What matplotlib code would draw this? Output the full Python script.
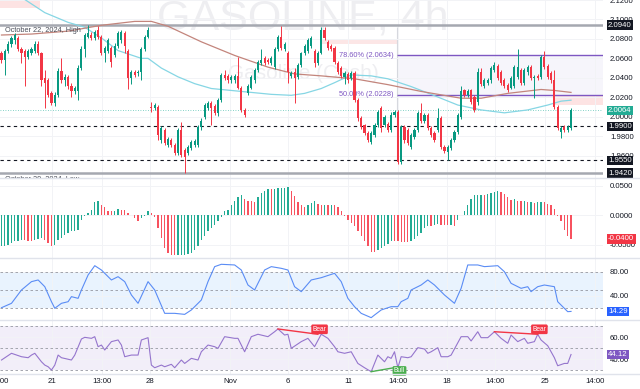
import numpy as np
import matplotlib.pyplot as plt
from matplotlib.lines import Line2D

plt.rcParams['font.family'] = ['Liberation Sans', 'DejaVu Sans']

# GASOLINE 4h candles (one entry per bar)
opens = [
    2.066, 2.058, 2.068, 2.075, 2.079, 2.081, 2.070, 2.068, 2.061, 2.066,
    2.068, 2.075, 2.065, 2.040, 2.038, 2.024, 2.014, 2.022, 2.047, 2.038,
    2.041, 2.032, 2.026, 2.026, 2.050, 2.070, 2.082, 2.084, 2.081, 2.089,
    2.082, 2.065, 2.068, 2.071, 2.063, 2.073, 2.079, 2.086, 2.068, 2.040,
    2.046, 2.045, 2.046, 2.070, 2.082, 2.010, 2.009, 2.010, 1.976, 1.986,
    1.971, 1.976, 1.971, 1.963, 1.986, 1.966, 1.963, 1.968, 1.971, 1.971,
    1.989, 2.000, 2.009, 2.014, 2.011, 2.004, 2.017, 2.043, 2.042, 2.038,
    2.038, 2.042, 2.030, 2.007, 2.024, 2.030, 2.038, 2.048, 2.055, 2.060,
    2.058, 2.055, 2.051, 2.070, 2.082, 2.070, 2.066, 2.042, 2.046, 2.041,
    2.053, 2.065, 2.068, 2.073, 2.068, 2.055, 2.066, 2.089, 2.077, 2.073,
    2.071, 2.055, 2.050, 2.041, 2.044, 2.040, 2.045, 2.017, 1.999, 1.991,
    1.983, 1.974, 1.981, 1.991, 2.009, 1.991, 1.993, 1.986, 2.002, 2.005,
    1.953, 1.989, 1.986, 1.969, 1.979, 1.986, 2.004, 1.996, 2.002, 1.988,
    1.983, 1.986, 1.999, 1.969, 1.964, 1.968, 1.976, 1.984, 2.000, 2.027,
    2.022, 2.027, 2.020, 2.015, 2.046, 2.032, 2.035, 2.038, 2.048, 2.052,
    2.046, 2.038, 2.033, 2.030, 2.032, 2.041, 2.048, 2.035, 2.046, 2.051,
    2.040, 2.042, 2.041, 2.061, 2.052, 2.045, 2.038, 2.010, 1.984, 1.989,
    1.986, 1.988]
highs = [
    2.068, 2.070, 2.078, 2.083, 2.086, 2.083, 2.072, 2.070, 2.070, 2.072,
    2.078, 2.078, 2.067, 2.048, 2.040, 2.026, 2.025, 2.050, 2.060, 2.044,
    2.043, 2.035, 2.032, 2.053, 2.073, 2.086, 2.094, 2.087, 2.089, 2.093,
    2.084, 2.073, 2.081, 2.073, 2.076, 2.088, 2.089, 2.088, 2.070, 2.048,
    2.048, 2.048, 2.072, 2.084, 2.092, 2.015, 2.014, 2.012, 1.990, 1.988,
    1.979, 1.978, 1.973, 1.988, 1.995, 1.968, 1.971, 1.976, 1.977, 1.991,
    1.999, 2.014, 2.016, 2.016, 2.013, 2.019, 2.045, 2.048, 2.044, 2.043,
    2.044, 2.061, 2.032, 2.009, 2.034, 2.043, 2.050, 2.058, 2.070, 2.062,
    2.060, 2.062, 2.072, 2.084, 2.093, 2.077, 2.068, 2.047, 2.050, 2.055,
    2.067, 2.075, 2.081, 2.083, 2.070, 2.068, 2.092, 2.092, 2.079, 2.075,
    2.073, 2.057, 2.052, 2.047, 2.046, 2.047, 2.047, 2.019, 2.001, 1.993,
    1.985, 1.985, 1.994, 2.007, 2.011, 2.002, 1.995, 2.005, 2.007, 2.007,
    1.991, 1.991, 1.988, 1.983, 1.988, 2.006, 2.014, 2.004, 2.004, 1.990,
    1.985, 2.009, 2.001, 1.971, 1.971, 1.978, 1.986, 2.004, 2.032, 2.029,
    2.028, 2.029, 2.022, 2.050, 2.050, 2.040, 2.040, 2.052, 2.056, 2.054,
    2.048, 2.040, 2.035, 2.042, 2.053, 2.070, 2.050, 2.050, 2.053, 2.053,
    2.043, 2.044, 2.063, 2.068, 2.054, 2.047, 2.048, 2.012, 1.990, 1.991,
    1.991, 2.009]
lows = [
    2.055, 2.043, 2.065, 2.072, 2.075, 2.068, 2.055, 2.032, 2.059, 2.063,
    2.066, 2.063, 2.032, 2.009, 2.020, 2.012, 2.011, 2.020, 2.035, 2.032,
    2.029, 2.020, 2.023, 2.017, 2.048, 2.061, 2.081, 2.079, 2.079, 2.080,
    2.063, 2.056, 2.065, 2.051, 2.061, 2.071, 2.076, 2.066, 2.029, 2.034,
    2.041, 2.042, 2.038, 2.068, 2.081, 2.005, 2.007, 1.976, 1.973, 1.971,
    1.969, 1.969, 1.961, 1.961, 1.959, 1.942, 1.961, 1.966, 1.969, 1.969,
    1.986, 1.998, 2.007, 1.991, 2.002, 2.001, 2.015, 2.038, 2.035, 2.035,
    2.035, 2.028, 2.005, 2.000, 2.022, 2.028, 2.035, 2.046, 2.053, 2.053,
    2.054, 2.053, 2.049, 2.068, 2.069, 2.068, 2.035, 2.040, 2.014, 2.039,
    2.051, 2.063, 2.066, 2.071, 2.051, 2.053, 2.064, 2.079, 2.069, 2.068,
    2.054, 2.044, 2.040, 2.034, 2.035, 2.038, 2.015, 1.996, 1.987, 1.981,
    1.974, 1.972, 1.979, 1.989, 1.984, 1.989, 1.984, 1.984, 2.000, 1.951,
    1.951, 1.973, 1.971, 1.967, 1.977, 1.984, 1.994, 1.994, 1.986, 1.979,
    1.974, 1.984, 1.967, 1.963, 1.955, 1.966, 1.974, 1.982, 1.998, 2.020,
    2.020, 2.013, 2.005, 2.012, 2.032, 2.030, 2.033, 2.035, 2.046, 2.038,
    2.033, 2.030, 2.025, 2.028, 2.030, 2.039, 2.033, 2.033, 2.043, 2.038,
    2.019, 2.038, 2.039, 2.049, 2.039, 2.035, 2.008, 1.986, 1.978, 1.984,
    1.984, 1.986]
closes = [
    2.058, 2.068, 2.075, 2.081, 2.084, 2.070, 2.065, 2.061, 2.068, 2.070,
    2.075, 2.065, 2.038, 2.035, 2.022, 2.014, 2.022, 2.047, 2.038, 2.041,
    2.032, 2.026, 2.030, 2.050, 2.070, 2.084, 2.086, 2.081, 2.087, 2.082,
    2.065, 2.071, 2.079, 2.056, 2.073, 2.086, 2.087, 2.073, 2.040, 2.046,
    2.043, 2.046, 2.070, 2.082, 2.089, 2.009, 2.012, 1.981, 1.988, 1.973,
    1.977, 1.971, 1.963, 1.986, 1.961, 1.959, 1.969, 1.974, 1.975, 1.989,
    1.996, 2.012, 2.014, 2.009, 2.004, 2.017, 2.043, 2.040, 2.038, 2.041,
    2.042, 2.030, 2.007, 2.002, 2.032, 2.041, 2.048, 2.056, 2.058, 2.055,
    2.056, 2.060, 2.070, 2.082, 2.071, 2.075, 2.046, 2.045, 2.040, 2.053,
    2.065, 2.073, 2.079, 2.081, 2.055, 2.066, 2.089, 2.081, 2.071, 2.070,
    2.056, 2.046, 2.042, 2.045, 2.038, 2.045, 2.017, 1.999, 1.989, 1.983,
    1.976, 1.983, 1.992, 2.005, 1.988, 2.000, 1.986, 2.002, 2.005, 1.953,
    1.989, 1.976, 1.973, 1.981, 1.986, 2.004, 1.996, 2.002, 1.988, 1.981,
    1.976, 1.999, 1.969, 1.965, 1.969, 1.976, 1.984, 2.002, 2.026, 2.022,
    2.026, 2.015, 2.007, 2.046, 2.034, 2.038, 2.038, 2.050, 2.053, 2.040,
    2.035, 2.032, 2.027, 2.040, 2.051, 2.051, 2.035, 2.048, 2.051, 2.040,
    2.041, 2.040, 2.061, 2.051, 2.041, 2.038, 2.010, 1.988, 1.988, 1.986,
    1.989, 2.0064]

# moving averages (bar index, price)
ma_fast_idx = [5, 13, 20, 25, 30, 35, 42, 44, 48, 53, 58, 63, 69, 75, 81, 87, 91, 96,
               100, 105, 111, 116, 123, 129, 137, 144, 151, 158, 164, 168, 171]
ma_fast = [2.125, 2.107, 2.097, 2.092, 2.081, 2.068, 2.060, 2.060, 2.050, 2.041, 2.034,
           2.029, 2.027, 2.025, 2.023, 2.022, 2.024, 2.029, 2.035, 2.043, 2.042, 2.039,
           2.031, 2.023, 2.012, 2.007, 2.004, 2.007, 2.012, 2.016, 2.017]
ma_slow_idx = [0, 9, 20, 30, 40, 45, 50, 55, 60, 70, 80, 88, 96, 106, 116, 126, 138,
               144, 152, 162, 166, 171]
ma_slow = [2.084, 2.085, 2.088, 2.094, 2.098, 2.098, 2.093, 2.085, 2.077, 2.063, 2.051,
           2.044, 2.042, 2.039, 2.033, 2.026, 2.019, 2.019, 2.024, 2.028, 2.027, 2.025]

# Awesome Oscillator
ao_vals = [
    -0.0525, -0.0520, -0.0497, -0.0469, -0.0441, -0.0429, -0.0412, -0.0415, -0.0429, -0.0441,
    -0.0412, -0.0396, -0.0384, -0.0412, -0.0469, -0.0525, -0.0497, -0.0412, -0.0384, -0.0339,
    -0.0299, -0.0271, -0.0260, -0.0243, -0.0073, -0.0017, 0.0040, 0.0096, 0.0226, 0.0237,
    0.0181, 0.0136, 0.0079, 0.0068, 0.0079, 0.0113, 0.0096, 0.0085, 0.0040, 0.0011,
    -0.0045, -0.0102, -0.0045, -0.0006, 0.0068, 0.0040, -0.0034, -0.0215, -0.0384, -0.0554,
    -0.0638, -0.0678, -0.0680, -0.0675, -0.0670, -0.0665, -0.0655, -0.0638, -0.0582, -0.0525,
    -0.0412, -0.0356, -0.0271, -0.0215, -0.0158, -0.0090, -0.0034, 0.0068, 0.0096, 0.0170,
    0.0249, 0.0305, 0.0350, 0.0283, 0.0237, 0.0235, 0.0226, 0.0305, 0.0379, 0.0418,
    0.0452, 0.0440, 0.0445, 0.0455, 0.0463, 0.0470, 0.0475, 0.0418, 0.0322, 0.0226,
    0.0181, 0.0136, 0.0181, 0.0209, 0.0237, 0.0192, 0.0170, 0.0181, 0.0170, 0.0181,
    0.0170, 0.0136, 0.0068, -0.0017, -0.0073, -0.0130, -0.0186, -0.0271, -0.0356, -0.0441,
    -0.0525, -0.0622, -0.0625, -0.0582, -0.0554, -0.0525, -0.0486, -0.0435, -0.0440, -0.0443,
    -0.0446, -0.0449, -0.0455, -0.0441, -0.0396, -0.0356, -0.0299, -0.0215, -0.0186, -0.0190,
    -0.0160, -0.0150, -0.0158, -0.0170, -0.0172, -0.0158, -0.0186, -0.0073, 0.0011, 0.0079,
    0.0181, 0.0283, 0.0339, 0.0345, 0.0350, 0.0339, 0.0362, 0.0379, 0.0396, 0.0407,
    0.0396, 0.0362, 0.0305, 0.0266, 0.0268, 0.0249, 0.0245, 0.0250, 0.0226, 0.0230,
    0.0209, 0.0226, 0.0228, 0.0220, 0.0192, 0.0181, 0.0113, -0.0017, -0.0102, -0.0243,
    -0.0356, -0.0400]

# Stochastic %K (bar index, value)
stoch_idx = [0, 3, 6, 9, 11, 13, 15, 16, 18, 20, 21, 23, 24, 26, 28, 30, 33, 35, 37, 39,
             41, 44, 46, 49, 52, 55, 57, 60, 62, 64, 66, 70, 72, 74, 76, 77, 79, 81, 84, 86,
             88, 90, 93, 96, 100, 102, 104, 106, 108, 111, 112, 114, 117, 119, 120, 122, 123,
             126, 128, 130, 133, 136, 138, 140, 143, 145, 149, 151, 153, 156, 158, 159, 161,
             163, 166, 167, 170, 171]
stoch_k = [20.5, 27.8, 50, 63.9, 66.7, 55.5, 30.5, 19.5, 27.8, 30.5, 38.9, 36.1, 50, 75,
           90.5, 83.3, 66.7, 72.2, 63.9, 41.7, 27.8, 63.9, 50, 11.1, 11.1, 9.4, 16.7, 33.3,
           63.9, 88.9, 92.8, 91.7, 83.3, 58.3, 50, 61.1, 83.3, 88.9, 86.1, 83.3, 55.5, 47.2,
           66.7, 70.5, 77.8, 63.9, 36.1, 22.2, 11.1, 3.9, 8.3, 16.7, 22.2, 22.2, 30.5, 36.1,
           50, 58.3, 66.7, 58.3, 41.7, 27.8, 52.8, 91.7, 91.7, 88.9, 90.5, 80.5, 61.1, 52.8,
           55.5, 47.2, 55.5, 58.3, 55.5, 30.5, 13.9, 14.29]

# RSI (bar index, value)
rsi_idx = [0, 3, 6, 8, 9, 10, 12, 13, 14, 15, 16, 17, 18, 21, 22, 24, 25, 27, 28, 29, 30,
           31, 33, 35, 36, 37, 39, 41, 42, 44, 45, 46, 48, 49, 51, 52, 54, 55, 57, 59, 60,
           62, 64, 65, 67, 70, 71, 73, 75, 77, 80, 82, 83, 85, 86, 87, 90, 92, 94, 96, 98,
           100, 101, 103, 105, 107, 109, 111, 113, 115, 116, 117, 118, 119, 120, 122, 123,
           125, 127, 128, 129, 131, 132, 134, 135, 138, 140, 141, 143, 144, 146, 148, 150,
           152, 153, 155, 157, 158, 160, 161, 162, 164, 166, 167, 169, 170, 171]
rsi_val = [39.1, 45.2, 42.1, 41.2, 43.6, 45.2, 37.5, 34.5, 33.0, 30.0, 34.5, 43.6, 41.2,
           39.1, 43.6, 58.2, 59.7, 58.8, 60.3, 51.2, 52.7, 48.2, 55.8, 57.3, 52.7, 42.1,
           43.6, 43.6, 57.3, 59.4, 34.5, 32.1, 34.5, 33.0, 35.2, 32.1, 39.1, 36.0, 40.6,
           39.1, 46.6, 52.7, 51.2, 49.7, 60.3, 58.8, 58.8, 46.6, 60.3, 62.5, 60.3, 64.8,
           67.3, 61.8, 62.5, 49.7, 55.8, 58.8, 51.2, 62.5, 58.8, 51.2, 46.6, 45.2, 46.6,
           36.0, 32.1, 28.5, 43.6, 37.5, 42.1, 40.6, 46.6, 32.1, 42.1, 41.2, 42.1, 50.3,
           49.1, 45.2, 46.6, 50.3, 42.1, 42.1, 43.6, 60.3, 60.3, 56.4, 64.8, 59.4, 59.4,
           64.8, 58.8, 54.3, 61.8, 55.8, 58.8, 54.3, 55.8, 62.5, 57.3, 52.1, 41.2, 33.9,
           36.0, 36.0, 44.12]

# RSI divergences: (start idx, start value, end idx, end value, label)
divergences = [(83, 67.3, 95, 62.5, 'Bear'), (111, 28.5, 119, 32.7, 'Bull'),
               (148, 64.8, 161, 62.5, 'Bear')]

# key levels
high_level = 2.0940
low_level = 1.9420
support_levels = [1.9900, 1.9550]
last_price = 2.0064
fib_levels = [2.0634, 2.0228]
fib_labels = ['78.60% (2.0634)', '50.00% (2.0228)']
fib_start = 118.8

tick_pos = [15.2, 30.2, 44.6, 68.6, 86.0, 104.1, 119.1, 133.8, 148.2, 163.2, 178.2]
tick_labels = ['21', '13:00', '28', 'Nov', '6', '11', '14:00', '18', '14:00', '25', '14:00']

UP = '#089981'
DOWN = '#f23645'
AO_UP = '#22ab94'
AO_DOWN = '#f7525f'
TXT = '#131722'
FS = 5.6

W, H = 640, 389
RIGHT = 603
XMIN, XMAX = -0.45, 180.6

fig = plt.figure(figsize=(W / 100, H / 100), dpi=100)


def pane(top, bottom):
    a = fig.add_axes([0, 1 - bottom / H, RIGHT / W, (bottom - top) / H])
    a.set_xlim(XMIN, XMAX)
    for s in a.spines.values():
        s.set_visible(False)
    a.yaxis.tick_right()
    a.tick_params(axis='both', length=0, labelsize=FS, labelcolor=TXT)
    a.tick_params(axis='y', pad=5)
    a.set_xticks(tick_pos)
    a.set_xticklabels([])
    a.grid(True, color='#f2f3f6', lw=0.7, zorder=0)
    return a


def tag(a, y, text, fc):
    a.annotate(text, xy=(1, y), xycoords=('axes fraction', 'data'), xytext=(5, 0),
               textcoords='offset pixels', ha='left', va='center', fontsize=FS,
               color='white', annotation_clip=False, zorder=20,
               bbox=dict(boxstyle='square,pad=0.18', fc=fc, ec='none'))


ax = pane(0, 178)
ax_ao = pane(178, 258)
ax_st = pane(258, 320)
ax_rsi = pane(320, 374)

# ---- price pane ----
ax.set_ylim(1.9370, 2.1196)
ax.set_yticks([2.12, 2.10, 2.08, 2.06, 2.04, 2.02, 2.00, 1.98, 1.96])
ax.set_yticklabels([f'{v:.4f}' for v in ax.get_yticks()])

ax.text(90.5, 2.1005, 'GASOLINE, 4h', fontsize=31, color='#eeeef1', ha='center',
        va='center', zorder=0)
ax.text(90.5, 2.0445, 'Gasoline (Cash)', fontsize=15, color='#eeeef1', ha='center',
        va='center', zorder=0)

# supply / demand zones
ax.fill_between([XMIN, 11.6], 2.1114, 2.1196, color='#fde3e3', lw=0, zorder=1)
ax.fill_between([95.6, 118.8], 2.0745, 2.0786, color='#fce6e6', lw=0, zorder=1)
ax.fill_between([160.8, XMAX], 2.0457, 2.0498, color='#fde3e3', lw=0, zorder=1)
ax.fill_between([165.6, XMAX], 2.0119, 2.0303, color='#fde3e3', lw=0, zorder=1)

# fibonacci
ax.fill_between([fib_start, XMAX], fib_levels[1], fib_levels[0], color='#f6f5fb', lw=0,
                zorder=1)
ax.hlines(fib_levels, fib_start, XMAX, color='#7e57c2', lw=1.0, zorder=2)
for lv, lb in zip(fib_levels, fib_labels):
    ax.text(fib_start - 1.2, lv, lb, fontsize=5.3, color='#7e57c2', ha='right',
            va='center', zorder=5)
ax.vlines(fib_start, 1.9570, 2.0920, color='#d6d8de', lw=0.8, zorder=1)

ax.axhline(high_level, color='#a5a8b0', lw=1.8, zorder=2)
ax.axhline(low_level, color='#a5a8b0', lw=1.8, zorder=2)
for lv in support_levels:
    ax.axhline(lv, color=TXT, lw=0.8, ls=(0, (3, 3)), zorder=2)
ax.axhline(last_price, color='#5cc4b4', lw=0.6, ls=(0, (1, 2)), zorder=2)

ax.text(1.0, high_level - 0.0015, 'October 22, 2024, High', fontsize=5.3, color='#4a4e59',
        ha='left', va='top', zorder=6)
ax.text(1.0, low_level - 0.0015, 'October 29, 2024, Low', fontsize=5.3, color='#4a4e59',
        ha='left', va='top', zorder=6, clip_on=True)

ax.plot(ma_fast_idx, ma_fast, color='#86d6e4', lw=0.9, zorder=3)
ax.plot(ma_slow_idx, ma_slow, color='#c3857c', lw=0.9, zorder=3)

x = np.arange(len(closes))
o, h, l, c = (np.array(v) for v in (opens, highs, lows, closes))
cols = np.where(c >= o, UP, DOWN)
ax.vlines(x, np.minimum(l, np.minimum(o, c)), np.maximum(h, np.maximum(o, c)),
          colors=cols, lw=0.7, zorder=4)
ax.bar(x, np.maximum(np.abs(c - o), 0.0007), bottom=np.minimum(o, c), width=0.64,
       color=cols, lw=0, zorder=5)

tag(ax, high_level, '2.0940', '#131722')
tag(ax, last_price, '2.0064', '#22ab94')
tag(ax, support_levels[0], '1.9900', '#131722')
tag(ax, support_levels[1], '1.9550', '#131722')
tag(ax, low_level, '1.9420', '#131722')

# ---- awesome oscillator ----
ao = np.array(ao_vals)
ao_cols = [AO_UP if i == 0 or ao[i] >= ao[i - 1] else AO_DOWN for i in range(len(ao))]
ax_ao.bar(x, ao, width=0.4, color=ao_cols, lw=0, zorder=3)
ax_ao.set_ylim(-0.0724, 0.0632)
ax_ao.set_yticks([0.05, 0.0, -0.05])
ax_ao.set_yticklabels(['0.0500', '0.0000', '-0.0500'])
tag(ax_ao, ao[-1], f'{ao[-1]:.4f}', '#f23645')

# ---- stochastic ----
ax_st.set_ylim(0, 103.3)
ax_st.axhspan(20, 80, color='#e9f3fe', lw=0, zorder=1)
for lv in (80, 50, 20):
    ax_st.axhline(lv, color='#9598a1', lw=0.6, ls=(0, (3, 3)), zorder=2)
ax_st.plot(stoch_idx, stoch_k, color='#5a8cf5', lw=0.8, zorder=3)
ax_st.set_yticks([80, 40])
ax_st.set_yticklabels(['80.00', '40.00'])
tag(ax_st, stoch_k[-1], f'{stoch_k[-1]:.2f}', '#2962ff')

# ---- RSI ----
ax_rsi.set_ylim(26.4, 75.45)
ax_rsi.axhspan(30, 70, color='#f2eef9', lw=0, zorder=1)
for lv in (70, 50, 30):
    ax_rsi.axhline(lv, color='#9598a1', lw=0.6, ls=(0, (3, 3)), zorder=2)
ax_rsi.plot(rsi_idx, rsi_val, color='#9575cd', lw=0.8, zorder=3)
for x0, v0, x1, v1, lb in divergences:
    dc = '#f23645' if lb == 'Bear' else '#4caf50'
    ax_rsi.plot([x0, x1], [v0, v1], color=dc, lw=1.0, zorder=4)
    ly = v1 + 4.5 if lb == 'Bear' else v1 - 3.5
    ax_rsi.text(x1 + 0.5, ly, lb, fontsize=4.8, color='white', ha='center', va='center',
                zorder=6, bbox=dict(boxstyle='round,pad=0.2', fc=dc, ec='none'))
ax_rsi.set_yticks([60, 40])
ax_rsi.set_yticklabels(['60.00', '40.00'])
tag(ax_rsi, rsi_val[-1], f'{rsi_val[-1]:.2f}', '#7e57c2')

ax_rsi.set_xticklabels(tick_labels)
ax_rsi.tick_params(axis='x', pad=3)
ax_rsi.text(-0.6, -0.13, '14:00', transform=ax_rsi.get_xaxis_transform(), fontsize=FS,
            color=TXT, ha='center', va='center', clip_on=False)

# pane separators
for yp in (178, 258, 320, 374):
    fig.add_artist(Line2D([0, 1], [1 - yp / H, 1 - yp / H], transform=fig.transFigure,
                          color='#e0e3eb', lw=1.0))

fig.savefig('out.png', dpi=100)
